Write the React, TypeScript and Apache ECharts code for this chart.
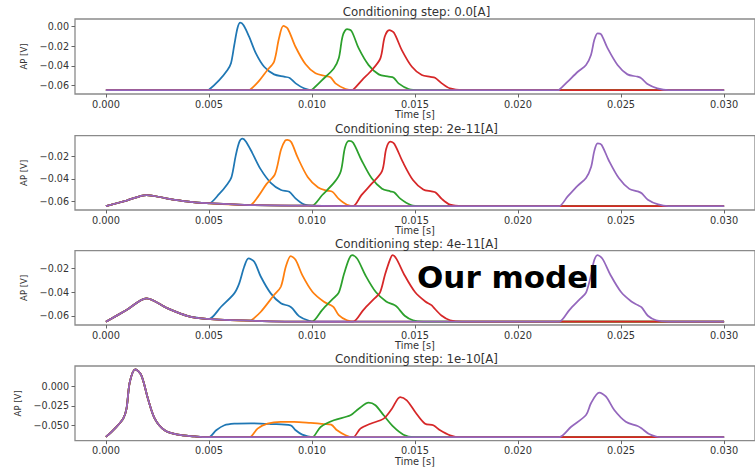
import React, { useEffect, useRef } from 'react';
import * as echarts from 'echarts';

type P = [number, number];

const COLORS = ['#1f77b4', '#ff7f0e', '#2ca02c', '#d62728', '#9467bd'];
const TITLES = [
  'Conditioning step: 0.0[A]',
  'Conditioning step: 2e-11[A]',
  'Conditioning step: 4e-11[A]',
  'Conditioning step: 1e-10[A]',
];
const X_TICKS = [0, 0.005, 0.01, 0.015, 0.02, 0.025, 0.03];
const X_RANGE: P = [-0.0015, 0.0315];
const Y_TICKS = [
  [-0.06, -0.04, -0.02, 0],
  [-0.06, -0.04, -0.02],
  [-0.06, -0.04, -0.02],
  [-0.05, -0.025, 0],
];
const Y_DECIMALS = [2, 2, 2, 3];
const Y_RANGE: P[] = [
  [-0.0689, 0.0079],
  [-0.068, -0.0011],
  [-0.0678, -0.0051],
  [-0.0689, 0.0252],
];

// ---------- Panel 1: 0.0 A ----------
const pre1: P[] = [[0, -0.065]];
const blue1: P[] = [[0.0049, -0.065], [0.005, -0.0645], [0.0055, -0.0546], [0.0059, -0.0443], [0.00607, -0.0375], [0.00623, -0.0187], [0.00639, -0.001], [0.00652, 0.0042], [0.00668, 0.0015], [0.00695, -0.0102], [0.00728, -0.0273], [0.00768, -0.041], [0.00816, -0.0488], [0.00865, -0.0512], [0.00892, -0.0524], [0.00921, -0.058], [0.00961, -0.063], [0.0101, -0.065], [0.03, -0.065]];
const orange1: P[] = [[0.0069, -0.065], [0.007, -0.0645], [0.0074, -0.0563], [0.00784, -0.0443], [0.00816, -0.0358], [0.0084, -0.0119], [0.00861, 0.0008], [0.00882, -0.0018], [0.0092, -0.0205], [0.00969, -0.0385], [0.01017, -0.0477], [0.01066, -0.0505], [0.0109, -0.0517], [0.01114, -0.058], [0.01163, -0.0638], [0.012, -0.065], [0.03, -0.065]];
const green1: P[] = [[0.0099, -0.065], [0.01, -0.0645], [0.01049, -0.0546], [0.01106, -0.0427], [0.0113, -0.0324], [0.01149, -0.0095], [0.0117, -0.0024], [0.01192, -0.0045], [0.01227, -0.0222], [0.01275, -0.0393], [0.01324, -0.0488], [0.01372, -0.0512], [0.01396, -0.0522], [0.0142, -0.058], [0.01469, -0.0638], [0.0152, -0.065], [0.03, -0.065]];
const red1: P[] = [[0.0119, -0.065], [0.012, -0.0645], [0.01243, -0.0546], [0.01291, -0.0443], [0.01332, -0.0324], [0.01353, -0.0102], [0.01375, -0.0034], [0.01398, -0.0062], [0.01436, -0.0239], [0.01485, -0.041], [0.01533, -0.0495], [0.01575, -0.0513], [0.01597, -0.0522], [0.0163, -0.058], [0.0167, -0.0632], [0.0173, -0.065], [0.03, -0.065]];
const purple1: P[] = [[0.0219, -0.065], [0.022, -0.0645], [0.02241, -0.0563], [0.0229, -0.0461], [0.0233, -0.0392], [0.02354, -0.029], [0.0237, -0.0137], [0.02386, -0.0068], [0.02403, -0.0078], [0.02435, -0.0222], [0.02483, -0.0392], [0.02531, -0.0488], [0.0258, -0.0512], [0.02599, -0.0529], [0.02628, -0.0587], [0.02676, -0.0631], [0.0273, -0.065], [0.03, -0.065]];

// ---------- Panel 2: 2e-11 A ----------
const pre2: P[] = [[0, -0.0645], [0.001, -0.0595], [0.00197, -0.0545], [0.00293, -0.0575], [0.0039, -0.0602], [0.0049, -0.0619], [0.00696, -0.0635], [0.0099, -0.0641], [0.0119, -0.0645], [0.0219, -0.0645]];
const blue2: P[] = [[0.005, -0.062], [0.0055, -0.0535], [0.0059, -0.0445], [0.0061, -0.038], [0.0063, -0.019], [0.00648, -0.0065], [0.00663, -0.0038], [0.0068, -0.0065], [0.0071, -0.0165], [0.0075, -0.031], [0.008, -0.0435], [0.0085, -0.05], [0.0089, -0.0515], [0.0092, -0.0575], [0.0096, -0.0628], [0.0101, -0.0642], [0.012, -0.0645], [0.03, -0.0645]];
const orange2: P[] = [[0.007, -0.0635], [0.0074, -0.0555], [0.0078, -0.0445], [0.0082, -0.036], [0.0085, -0.0135], [0.0087, -0.0055], [0.00881, -0.0048], [0.009, -0.007], [0.0093, -0.0205], [0.0098, -0.0385], [0.0103, -0.0477], [0.0107, -0.0505], [0.011, -0.0517], [0.0113, -0.058], [0.0117, -0.0633], [0.0121, -0.0645], [0.03, -0.0645]];
const green2: P[] = [[0.01, -0.0641], [0.0105, -0.0545], [0.0111, -0.0427], [0.0114, -0.033], [0.0116, -0.012], [0.01179, -0.0058], [0.012, -0.0075], [0.0124, -0.023], [0.0129, -0.0395], [0.0134, -0.0488], [0.0138, -0.0512], [0.014, -0.0522], [0.0143, -0.058], [0.0148, -0.0635], [0.0153, -0.0645], [0.03, -0.0645]];
const red2: P[] = [[0.012, -0.0645], [0.0124, -0.0546], [0.0129, -0.0443], [0.0134, -0.033], [0.0136, -0.013], [0.0138, -0.0065], [0.014, -0.0085], [0.0144, -0.0245], [0.0149, -0.041], [0.0154, -0.0495], [0.0158, -0.0513], [0.016, -0.0522], [0.0163, -0.058], [0.0167, -0.0632], [0.0173, -0.0645], [0.03, -0.0645]];
const purple2: P[] = [[0.022, -0.0645], [0.0224, -0.056], [0.0229, -0.046], [0.0233, -0.0392], [0.02355, -0.029], [0.0237, -0.015], [0.02386, -0.008], [0.02405, -0.0092], [0.0244, -0.0232], [0.0249, -0.0395], [0.0254, -0.049], [0.0258, -0.0512], [0.026, -0.0529], [0.0263, -0.0587], [0.0268, -0.063], [0.0273, -0.0645], [0.03, -0.0645]];

// ---------- Panel 3: 4e-11 A ----------
const pre3: P[] = [[0, -0.065], [0.001, -0.0552], [0.00197, -0.0453], [0.003, -0.0538], [0.00398, -0.0603], [0.0049, -0.0627], [0.00704, -0.0642], [0.0099, -0.065], [0.0119, -0.065], [0.0219, -0.065]];
const blue3: P[] = [[0.005, -0.0628], [0.00559, -0.0524], [0.00623, -0.0411], [0.00647, -0.0327], [0.00671, -0.0187], [0.00692, -0.0116], [0.0072, -0.0144], [0.00752, -0.0271], [0.008, -0.0411], [0.00849, -0.0495], [0.00889, -0.0518], [0.00905, -0.0538], [0.00937, -0.0603], [0.00986, -0.0642], [0.0102, -0.065], [0.03, -0.065]];
const orange3: P[] = [[0.00705, -0.0642], [0.00752, -0.0566], [0.00816, -0.0425], [0.00849, -0.0355], [0.00873, -0.0187], [0.00897, -0.0096], [0.00921, -0.013], [0.00953, -0.0257], [0.01002, -0.0397], [0.01058, -0.0482], [0.0109, -0.051], [0.01106, -0.0529], [0.0113, -0.0594], [0.0117, -0.0638], [0.0121, -0.065], [0.03, -0.065]];
const green3: P[] = [[0.01, -0.065], [0.0105, -0.055], [0.011, -0.046], [0.0113, -0.0405], [0.01155, -0.025], [0.0118, -0.012], [0.01195, -0.0088], [0.0122, -0.012], [0.0126, -0.026], [0.0131, -0.04], [0.0136, -0.048], [0.014, -0.051], [0.01415, -0.053], [0.0145, -0.06], [0.0149, -0.0638], [0.0154, -0.065], [0.03, -0.065]];
const red3: P[] = [[0.012, -0.065], [0.0125, -0.055], [0.013, -0.046], [0.0133, -0.0405], [0.01355, -0.025], [0.0138, -0.012], [0.01391, -0.0088], [0.0141, -0.012], [0.0145, -0.026], [0.015, -0.04], [0.0155, -0.048], [0.0158, -0.051], [0.0159, -0.053], [0.0163, -0.06], [0.0167, -0.0638], [0.0173, -0.065], [0.03, -0.065]];
const purple3: P[] = [[0.022, -0.065], [0.0225, -0.055], [0.023, -0.046], [0.0233, -0.0405], [0.02355, -0.025], [0.0237, -0.013], [0.02386, -0.0088], [0.0241, -0.012], [0.0245, -0.026], [0.025, -0.04], [0.0255, -0.048], [0.0258, -0.051], [0.026, -0.053], [0.0263, -0.06], [0.0267, -0.0638], [0.0273, -0.065], [0.03, -0.065]];

// ---------- Panel 4: 1e-10 A ----------
const pre4: P[] = [[0, -0.0642], [0.00043, -0.0537], [0.00084, -0.0411], [0.001, -0.0286], [0.00116, 0.005], [0.00143, 0.021], [0.00172, 0.0135], [0.00204, -0.016], [0.00237, -0.0411], [0.00285, -0.0558], [0.00349, -0.0613], [0.0043, -0.0634], [0.0049, -0.0645], [0.0069, -0.0645], [0.0099, -0.0645], [0.0119, -0.0645], [0.0219, -0.0645]];
const blue4: P[] = [[0.005, -0.0645], [0.00535, -0.0558], [0.00575, -0.0495], [0.00623, -0.0475], [0.00704, -0.047], [0.008, -0.0479], [0.00897, -0.0495], [0.00921, -0.0558], [0.00953, -0.0613], [0.01001, -0.0645], [0.03, -0.0645]];
const orange4: P[] = [[0.00698, -0.0645], [0.00736, -0.0537], [0.00784, -0.0475], [0.00849, -0.0453], [0.00913, -0.0453], [0.00994, -0.0466], [0.01058, -0.0479], [0.01093, -0.0487], [0.01122, -0.0558], [0.01163, -0.0621], [0.012, -0.0645], [0.03, -0.0645]];
const green4: P[] = [[0.01001, -0.0645], [0.01042, -0.0516], [0.01106, -0.0432], [0.01187, -0.0369], [0.01227, -0.0286], [0.01275, -0.021], [0.01308, -0.0243], [0.01348, -0.0369], [0.01396, -0.0516], [0.01444, -0.0613], [0.01493, -0.0645], [0.03, -0.0645]];
const red4: P[] = [[0.012, -0.0645], [0.01235, -0.0537], [0.01284, -0.0475], [0.01348, -0.0411], [0.01388, -0.0286], [0.01428, -0.0139], [0.0146, -0.018], [0.01501, -0.0327], [0.01549, -0.0475], [0.01589, -0.0495], [0.01622, -0.0558], [0.0167, -0.0621], [0.0172, -0.0645], [0.03, -0.0645]];
const purple4: P[] = [[0.022, -0.0645], [0.02258, -0.0513], [0.0233, -0.0365], [0.02354, -0.0218], [0.02394, -0.0084], [0.02427, -0.0134], [0.02467, -0.0302], [0.02523, -0.045], [0.0258, -0.0504], [0.02599, -0.0533], [0.02636, -0.0605], [0.02692, -0.0645], [0.03, -0.0645]];

const PRE = [pre1, pre2, pre3, pre4];
const PANELS: P[][][] = [
  [blue1, orange1, green1, red1, purple1],
  [blue2, orange2, green2, red2, purple2],
  [blue3, orange3, green3, red3, purple3],
  [blue4, orange4, green4, red4, purple4],
];

// layout
const GRID_LEFT = 75;
const GRID_WIDTH = 683;
const GRID_TOP = [19, 135.7, 250.7, 366];
const GRID_H = [75, 74.3, 74.3, 74.7];
const TITLE_Y = [12, 128.5, 243.5, 359];
const FONT = '"DejaVu Sans", Verdana, sans-serif';
const TEXT_COLOR = '#333';

function fmt(v: number, d: number) {
  const s = Math.abs(v).toFixed(d);
  return (v < -1e-12 ? '\u2212' : '') + s;
}

export default function App() {
  const ref = useRef<HTMLDivElement>(null);
  useEffect(() => {
    if (!ref.current) return;
    const chart = echarts.init(ref.current, undefined, { renderer: 'svg' });
    const grids: any[] = [];
    const xAxes: any[] = [];
    const yAxes: any[] = [];
    const series: any[] = [];
    const graphics: any[] = [];
    for (let i = 0; i < 4; i++) {
      grids.push({
        left: GRID_LEFT,
        top: GRID_TOP[i],
        width: GRID_WIDTH,
        height: GRID_H[i],
        show: true,
        borderColor: '#8a8a8a',
        borderWidth: 1.3,
        backgroundColor: 'transparent',
      });
      xAxes.push({
        gridIndex: i,
        type: 'value',
        position: 'bottom',
        min: X_RANGE[0],
        max: X_RANGE[1],
        splitLine: { show: false },
        axisLine: { show: false, onZero: false },
        axisTick: { show: true, length: 3.5, lineStyle: { color: '#666', width: 1 }, customValues: X_TICKS },
        axisLabel: {
          customValues: X_TICKS,
          formatter: (v: number) => v.toFixed(3),
          fontSize: 9.8,
          color: TEXT_COLOR,
          fontFamily: FONT,
          margin: 5,
        },
        name: 'Time [s]',
        nameLocation: 'middle',
        nameGap: 14,
        nameTextStyle: { fontSize: 9.8, color: TEXT_COLOR, fontFamily: FONT },
      });
      yAxes.push({
        gridIndex: i,
        type: 'value',
        position: 'left',
        min: Y_RANGE[i][0],
        max: Y_RANGE[i][1],
        splitLine: { show: false },
        axisLine: { show: false, onZero: false },
        axisTick: { show: true, length: 3.5, lineStyle: { color: '#666', width: 1 }, customValues: Y_TICKS[i] },
        axisLabel: {
          customValues: Y_TICKS[i],
          formatter: (v: number) => fmt(v, Y_DECIMALS[i]),
          fontSize: 9.6,
          color: TEXT_COLOR,
          fontFamily: FONT,
          margin: 6,
        },
        name: 'AP [V]',
        nameLocation: 'middle',
        nameGap: 44,
        nameTextStyle: { fontSize: 8.5, color: TEXT_COLOR, fontFamily: FONT },
      });
      PANELS[i].forEach((ap, k) => {
        const onset = ap[0][0];
        const data = PRE[i].filter((p) => p[0] < onset).concat(ap);
        series.push({
          type: 'line',
          xAxisIndex: i,
          yAxisIndex: i,
          data,
          showSymbol: false,
          smooth: 0.3,
          lineStyle: { color: COLORS[k], width: 1.75 },
          itemStyle: { color: COLORS[k] },
          z: 2 + k,
        });
      });
      graphics.push({
        type: 'text',
        x: GRID_LEFT + 341.5,
        y: TITLE_Y[i],
        style: {
          text: TITLES[i],
          align: 'center',
          verticalAlign: 'middle',
          fontSize: 11.8,
          fontFamily: FONT,
          fill: TEXT_COLOR,
        },
      });
    }
    graphics.push({
      type: 'text',
      x: 417,
      y: 277,
      z: 100,
      style: {
        text: 'Our model',
        align: 'left',
        verticalAlign: 'middle',
        fontSize: 31,
        fontWeight: 'bold',
        fontFamily: FONT,
        fill: '#000',
      },
    });
    chart.setOption({
      animation: false,
      backgroundColor: '#fff',
      grid: grids,
      xAxis: xAxes,
      yAxis: yAxes,
      series,
      graphic: graphics,
    });
    return () => chart.dispose();
  }, []);
  return (
    <div
      ref={ref}
      style={{ position: 'fixed', left: 0, top: 0, width: 755, height: 470, background: '#fff' }}
    />
  );
}
